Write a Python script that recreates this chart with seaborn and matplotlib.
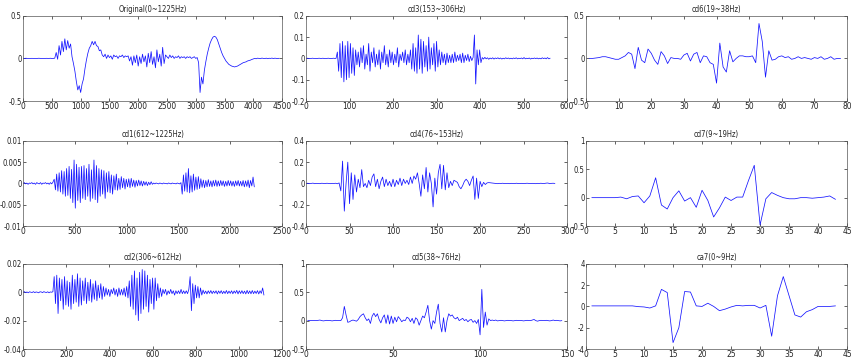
import numpy as np
import matplotlib
matplotlib.use("Agg")
import matplotlib.pyplot as plt
from matplotlib import font_manager as fm
import seaborn as sns

# Señales (valores aproximados, muestreo reducido)
orig_step = 25
orig_y = [0, 0, 0.002, 0, -0.002, 0, 0.001, 0, 0, -0.001, 0, 0.002, 0, 0, -0.002, 0, 0.001, 0, 0, 0.002, -0.001, 0, 0.003,
          0.07, -0.01, 0.15, 0.04, 0.2, 0.08, 0.23, 0.1, 0.21, 0.12, 0.17, 0.02,
          -0.06, -0.15, -0.27, -0.37, -0.32, -0.4, -0.3, -0.24, -0.12, -0.02, 0.06, 0.12, 0.15,
          0.2, 0.16, 0.2, 0.15, 0.14, 0.09, 0.1, 0.04, 0.02, 0.05,
          0.0, 0.04, 0.01, 0.03, -0.01, 0.04, 0.02, 0.03, 0.0, 0.03, 0.02, 0.04, 0.01, 0.03, 0.02, 0.03,
          -0.03, 0.02, -0.08, 0.03, -0.05, 0.04, -0.09, 0.02, -0.06, 0.05, -0.04, 0.03, -0.1, 0.06, -0.05, 0.08,
          -0.07, 0.02, -0.11, 0.1, -0.04, 0.05, -0.09, 0.13, -0.06, 0.04,
          0.02, 0.0, 0.04, 0.01, 0.03, 0.0, 0.02, 0.01, 0.03, 0.0, 0.02, 0.01, 0.02, 0.0, 0.02, 0.01, 0.02, 0.0,
          0.01, 0.02, 0.0, 0.01,
          -0.05, -0.4, -0.22, -0.3, -0.14, -0.04, 0.05, 0.12, 0.18, 0.22, 0.25, 0.26, 0.25, 0.22, 0.17, 0.12,
          0.07, 0.03, 0.0, -0.03, -0.05, -0.07, -0.08, -0.09, -0.095, -0.1, -0.095, -0.09, -0.08, -0.07, -0.06,
          -0.05, -0.045, -0.04, -0.03, -0.025, -0.02, -0.012, -0.006,
          0, -0.004, 0.003, 0, -0.003, 0.004, 0, -0.002, 0.003, -0.003, 0.002, 0, 0.004, -0.002, 0.003, 0,
          -0.002, 0.002]

cd1_step = 12
cd1_y = [0, 0.0002, -0.0001, 0.0001, -0.0002, 0.0001, 0, 0.0002, -0.0001, 0.0001, -0.0002, 0.0002, 0, -0.0001,
         0.0002, -0.0002, 0.0001, 0, 0.0002, -0.0001, 0.0001, -0.0002, 0.0002, -0.0001, 0.0003,
         0.001, -0.0015, 0.0022, -0.0018, 0.0025, -0.002, 0.003, -0.0025, 0.0028,
         -0.003, 0.0035, -0.0028, 0.004, -0.0035, 0.0033, -0.0045, 0.0055, -0.0058, 0.0045, -0.004, 0.0038,
         -0.0045, 0.004, -0.0035, 0.0042, -0.0038, 0.0035, -0.003, 0.0045, -0.0042, 0.0032, -0.0035, 0.0055,
         -0.0038, 0.0042, -0.0045, 0.0035, -0.003,
         0.0032, -0.0025, 0.003, -0.0035, 0.0025, -0.002, 0.0028, -0.0022, 0.002, -0.0025, 0.0018, -0.0015, 0.0022,
         -0.0016, 0.0012, -0.0014, 0.0016, -0.001, 0.0012, -0.0013, 0.001, -0.0008, 0.0011, -0.001, 0.0012,
         -0.0007, 0.0008, -0.0009, 0.0007, -0.0006, 0.0008, -0.0005, 0.0006, -0.0006, 0.0005, -0.0004, 0.0004,
         -0.0005, 0.0003, -0.0003, 0.0004, -0.0002,
         0.0001, -0.0001, 0.0001, 0, -0.0001, 0.0001, 0, -0.0001, 0.0001, 0, 0, -0.0001, 0.0001, 0, -0.0001,
         0.0001, 0, 0, -0.0001, 0.0001, 0, -0.0001, 0.0002,
         -0.0025, 0.002, -0.0018, 0.0025, -0.002, 0.0035, -0.0022, 0.0018, -0.002, 0.0022, -0.0016, 0.0015,
         -0.0014, 0.0016, -0.0012,
         0.0011, -0.0009, 0.0008, -0.001, 0.0007, -0.0008, 0.0009, -0.0007, 0.0006, -0.0008, 0.0007, -0.0006,
         0.0008, -0.0007, 0.0006, -0.0006, 0.0007, -0.0005, 0.0006, -0.0007, 0.0005, -0.0006, 0.0007, -0.0005,
         0.0006, -0.0006, 0.0005, -0.0007, 0.0006, -0.0005, 0.0007, -0.0006, 0.0005, -0.0006, 0.0007, -0.0008,
         0.0006, -0.0007, 0.0008, -0.001, 0.0007, -0.0006, 0.0015, -0.0008]

cd2_step = 6
cd2_y = [0, 0.0004, -0.0003, 0.0002, -0.0004, 0.0003, 0, -0.0002, 0.0004, -0.0003, 0.0002, 0, -0.0004, 0.0003,
         0.0002, -0.0003, 0.0004, 0, -0.0002, 0.0003, -0.0004, 0.0002, 0, 0.0003,
         0.011, -0.008, 0.012, -0.015, 0.01, -0.006, 0.009, -0.012, 0.011, -0.009, 0.008, -0.01, 0.007, -0.012,
         0.012, -0.008, 0.009, -0.007, 0.013, -0.01, 0.01, -0.009, 0.008, -0.006, 0.01, -0.008, 0.007, -0.006,
         0.009, -0.007, 0.006, -0.005, 0.008, -0.006, 0.005, -0.004, 0.006, -0.005, 0.004, -0.003,
         0.003, -0.002, 0.002, -0.003, 0.002, -0.001, 0.003, -0.002, 0.002, -0.003, 0.003, -0.002, 0.002, -0.002,
         0.003, -0.003, 0.004, -0.004,
         0.008, -0.01, 0.012, -0.012, 0.015, -0.016, 0.01, -0.02, 0.014, -0.015, 0.016, -0.012, 0.015, -0.01,
         0.012, -0.014, 0.009, -0.008, 0.01,
         -0.012, 0.01, -0.006, 0.006, -0.004, 0.003, -0.003,
         0.002, -0.001, 0.002, -0.002, 0.001, -0.001, 0.002, -0.001, 0.001, -0.002, 0.001, -0.001, 0.001, -0.001,
         0.002, -0.001, 0.001, -0.001, 0.001, -0.001, 0.002,
         0.011, -0.013, 0.006, -0.008, 0.005, -0.004, 0.004, -0.004, 0.003, -0.002,
         0.0015, -0.001, 0.0008, -0.0012, 0.001, -0.0008, 0.0012, -0.001, 0.0008, -0.0007, 0.001, -0.0012, 0.0009,
         -0.0008, 0.0011, -0.001, 0.0007, -0.0009, 0.0012, -0.001, 0.0008, -0.0008, 0.001, -0.0011, 0.0009,
         -0.0007, 0.0013, -0.0012, 0.001, -0.0009, 0.0011, -0.001, 0.0008, -0.0012, 0.0013, -0.001, 0.0009,
         -0.0011, 0.0012, -0.001, 0.0008, -0.0009, 0.0011, -0.0012, 0.001, -0.0008, 0.003, -0.002]

cd3_step = 3
cd3_y = [0, 0.001, 0, -0.001, 0, 0.001, 0, 0, -0.001, 0, 0.001, 0, 0, 0.001, -0.001, 0, 0, 0.001, 0, -0.001, 0,
         0.001, 0, 0,
         0.03, -0.06, 0.07, -0.09, 0.08, -0.11, 0.06, -0.1, 0.08, -0.09, 0.07, -0.07, 0.05, -0.08, 0.04, -0.03,
         0.03, -0.04, 0.05, -0.02, 0.06, -0.05, 0.02, -0.03, 0.07, -0.06, 0.03, -0.02, 0.05, -0.04, 0.02, -0.03,
         0.04, -0.05, 0.03, -0.02, 0.06, -0.03, 0.02, -0.04, 0.04, -0.02, 0.03, -0.03, 0.02, -0.02, 0.05, -0.04,
         0.02, -0.01, 0.03, -0.02, 0.04, -0.03, 0.02, -0.02,
         0.04, -0.05, 0.07, -0.06, 0.05, -0.07, 0.11, -0.05, 0.09, -0.07, 0.08, -0.04, 0.06, -0.06, 0.1, -0.05,
         0.05, -0.03, 0.07, -0.06, 0.08, -0.04, 0.04, -0.03,
         0.03, -0.02, 0.02, -0.03, 0.025, -0.02, 0.015, -0.02, 0.02, -0.02, 0.03, -0.015, 0.015, -0.01, 0.02,
         -0.02, 0.025, -0.02, 0.015, -0.01, 0.02, -0.015, 0.01, -0.01, 0.005,
         0.11, -0.12, 0.04, -0.03, 0.04, -0.02,
         0.004, -0.003, 0.005, -0.002, 0.003, -0.004, 0.002, -0.002, 0.003, -0.003, 0.002, -0.001, 0.003, -0.002,
         0.002, -0.003, 0.001, -0.002, 0.003, -0.001, 0.002, -0.002, 0.001, -0.002, 0.002, -0.001, 0.003, -0.002,
         0.001, -0.001, 0.002, -0.002, 0.004, -0.002, 0.001, -0.001, 0.002, -0.003, 0.001, -0.001, 0.002, -0.001,
         0.002, -0.002, 0.001, -0.002, 0.003, -0.001, 0.002, -0.002, 0.004, -0.002, 0.001]

cd4_step = 2
cd4_y = [0, 0.002, -0.002, 0, 0.003, -0.002, 0.001, 0, -0.002, 0.002, 0, -0.001, 0.002, 0, -0.002, 0.001, 0,
         0.002, -0.003, 0.005,
         -0.07, 0.21, -0.26, 0.0, 0.2, -0.19, 0.1, -0.15, 0.08, -0.08, 0.04, -0.04, 0.13, -0.03,
         0.0, -0.04, 0.03, -0.02, 0.06, 0.09, -0.03, 0.04, -0.05, 0.02, 0.06, -0.03, 0.04, -0.02, 0.02, -0.03,
         0.04, -0.03, 0.03, -0.01, 0.05, -0.02, 0.04, 0.0, 0.03, -0.01, 0.06, 0.0, 0.07, 0.04, 0.1, 0.0, -0.12,
         0.08, -0.05, 0.15, -0.08, 0.1,
         0.0, -0.22, 0.05, -0.1, 0.1, 0.18, -0.05, 0.17, -0.06, 0.1, -0.04, 0.02, -0.02, 0.03, 0.02, 0.01, -0.03,
         -0.05, -0.02, 0.02, 0.04, 0.02, -0.02, 0.03, 0.07, -0.15, 0.05, -0.14, 0.02, -0.03, 0.01, -0.01,
         0.005, 0.008, 0.006, 0.004, 0.002, 0, -0.002, 0.001, 0, 0.002, -0.001, 0, 0.001, -0.002, 0.001, 0, 0,
         0.002, -0.001, 0, 0.001, -0.001, 0, 0.002, 0, -0.001, 0.001, 0, -0.002, 0.001, 0, 0.002, -0.001, 0,
         0.003, 0.004, -0.002, 0.001, 0.002, 0]

cd5_y = [0, 0, 0, 0, 0, 0, 0.005, 0.01, 0.0, -0.005, 0, 0.005, 0, 0, -0.005, 0, 0.005, 0, 0, 0.0,
         0.05, 0.25, 0.1, -0.03, -0.02, 0.0, 0.01, 0.0, -0.01, 0.02,
         0.07, 0.1, 0.12, 0.05, 0.0, 0.03, -0.05, 0.08, 0.13, 0.07,
         0.12, 0.02, -0.04, 0.05, 0.1, -0.05, 0.1, -0.06, 0.08, -0.05,
         0.06, -0.02, 0.07, 0.03, -0.02, 0.01, 0.0, 0.06, 0.04, -0.02,
         0.04, -0.05, 0.05, 0.02, -0.08, 0.0, 0.08, 0.05, 0.15, 0.27,
         0.0, -0.15, 0.0, -0.05, 0.15, 0.29, -0.05, -0.2, 0.05, -0.2,
         0.0, 0.12, 0.08, 0.1, 0.05, 0.03, 0.06, 0.0, 0.02, 0.04,
         0.0, 0.02, -0.02, 0.01, 0.02, -0.03, 0.0, -0.05, 0.02, -0.25,
         0.55, -0.12, 0.15, -0.08, 0.03, 0.0, 0.01, 0.0, 0.01, -0.005,
         0, 0.005, 0, -0.005, 0, 0.005, 0, 0, -0.005, 0, 0.005, 0, 0, 0, -0.005, 0, 0.005, 0, 0, 0.01, 0.02, 0,
         -0.01, 0, 0.005, 0, 0, 0.005, 0, -0.005, 0, 0.01, 0, 0.005, 0, -0.005, 0]

cd6_y = [0, 0, 0.005, 0.01, 0.02, 0.02, 0.01, 0.0, -0.01, -0.01,
         0.01, 0.03, 0.07, 0.05, -0.12, 0.13, -0.02, -0.05, 0.11, 0.06,
         -0.02, -0.07, 0.08, 0.03, -0.06, 0.01, 0.0, 0.0, -0.01, 0.04,
         0.06, -0.03, 0.05, 0.07, -0.05, 0.03, 0.02, -0.05, -0.07, -0.29,
         0.18, -0.1, -0.16, 0.09, -0.04, 0.0, 0.03, 0.03, 0.02, 0.02,
         0.03, -0.05, 0.41, 0.2, -0.22, 0.09, -0.02, -0.01, 0.02, 0.03,
         0.01, 0.02, -0.01, 0.0, 0.02, 0.0, 0.01, 0.0, -0.01, 0.01,
         0.0, 0.02, -0.01, 0.0, 0.02, -0.01, 0.0, 0.0]

cd7_y = [0, 0, 0, 0, 0, 0.01, -0.02, 0.02, 0.03, -0.09, 0.03, 0.35, -0.13, -0.2, 0.0, 0.12, -0.06, 0.0, -0.17,
         0.13, -0.05, -0.34, -0.18, 0.01, -0.05, 0.01, 0.01, 0.3, 0.57, -0.48, -0.02, 0.09, 0.04, 0.0, -0.02,
         -0.02, 0.0, 0.0, -0.01, 0.0, 0.01, 0.03, -0.03]

ca7_y = [0.05, 0.05, 0.05, 0.05, 0.05, 0.05, 0.05, 0.05, -0.02, -0.05, -0.15, 0.05, 1.6, 1.3, -3.4, -2.0, 1.4,
         1.35, 0.05, 0.0, 0.3, 0.0, -0.4, -0.25, -0.05, 0.1, 0.05, 0.1, 0.1, -0.15, 0.1, -2.8, 1.0, 2.8, 1.0,
         -0.8, -1.0, -0.5, -0.3, 0.0, 0.0, 0.0, 0.05]

titles = ['Original(0~1225Hz)', 'cd3(153~306Hz)', 'cd6(19~38Hz)',
          'cd1(612~1225Hz)', 'cd4(76~153Hz)', 'cd7(9~19Hz)',
          'cd2(306~612Hz)', 'cd5(38~76Hz)', 'ca7(0~9Hz)']

sns.set_style("ticks")
plt.rcParams['font.family'] = ['DejaVu Sans']

# buscar una fuente estrecha (el original usa una letra muy condensada)
narrow_file = None
for f in fm.fontManager.ttflist:
    nm = f.name.lower()
    if f.style == 'normal' and f.weight in (400, 'normal', 'regular') and \
            ('narrow' in nm or 'condensed' in nm or f.stretch in ('condensed', 'semi-condensed')):
        narrow_file = f.fname
        break

if narrow_file:
    xtick_font = fm.FontProperties(fname=narrow_file, size=6.0)
    ytick_font = fm.FontProperties(fname=narrow_file, size=5.5)
    title_font = fm.FontProperties(fname=narrow_file, size=5.5)
else:
    xtick_font = fm.FontProperties(family='DejaVu Sans', size=5.3)
    ytick_font = fm.FontProperties(family='DejaVu Sans', size=4.8)
    title_font = fm.FontProperties(family='DejaVu Sans', size=4.5)


def tick_fmt(v, pos=None):
    # estilo MATLAB: 0.5, -0.005, 1000
    if abs(v) < 1e-12:
        return '0'
    return f'{v:g}'


# (datos, paso, inicio, xlim, xticks, ylim, yticks)
panels = [
    (orig_y, orig_step, 0, (0, 4500), np.arange(0, 4501, 500), (-0.5, 0.5), [-0.5, 0, 0.5]),
    (cd3_y, cd3_step, 0, (0, 600), np.arange(0, 601, 100), (-0.2, 0.2), [-0.2, -0.1, 0, 0.1, 0.2]),
    (cd6_y, 1, 1, (0, 80), np.arange(0, 81, 10), (-0.5, 0.5), [-0.5, 0, 0.5]),
    (cd1_y, cd1_step, 0, (0, 2500), np.arange(0, 2501, 500), (-0.01, 0.01), [-0.01, -0.005, 0, 0.005, 0.01]),
    (cd4_y, cd4_step, 0, (0, 300), np.arange(0, 301, 50), (-0.4, 0.4), [-0.4, -0.2, 0, 0.2, 0.4]),
    (cd7_y, 1, 1, (0, 45), np.arange(0, 46, 5), (-0.5, 1), [-0.5, 0, 0.5, 1]),
    (cd2_y, cd2_step, 0, (0, 1200), np.arange(0, 1201, 200), (-0.04, 0.02), [-0.04, -0.02, 0, 0.02]),
    (cd5_y, 1, 1, (0, 150), np.arange(0, 151, 50), (-0.5, 1), [-0.5, 0, 0.5, 1]),
    (ca7_y, 1, 1, (0, 45), np.arange(0, 46, 5), (-4, 4), [-4, -2, 0, 2, 4]),
]

fig = plt.figure(figsize=(8.56, 3.64), dpi=100)
col_left = [0.027, 0.3575, 0.6846]
col_width = [0.3025, 0.305, 0.305]
row_bottom = [0.7225, 0.379, 0.0412]
ax_h = 0.234

for k, (y, step, start, xl, xt, yl, yt) in enumerate(panels):
    r, c = divmod(k, 3)
    ax = fig.add_axes([col_left[c], row_bottom[r], col_width[c], ax_h])
    y = np.asarray(y)
    x = start + np.arange(len(y)) * step
    sns.lineplot(x=x, y=y, ax=ax, color='#1414ff', linewidth=0.55, estimator=None, sort=False)
    ax.set_xlim(*xl)
    ax.set_ylim(*yl)
    ax.set_xticks(xt)
    ax.set_yticks(yt)
    ax.xaxis.set_major_formatter(plt.FuncFormatter(tick_fmt))
    ax.yaxis.set_major_formatter(plt.FuncFormatter(tick_fmt))
    ax.tick_params(direction='in', top=True, right=True, length=2.5, width=0.5,
                   pad=1.0, colors='#222222')
    for lab in ax.get_xticklabels():
        lab.set_fontproperties(xtick_font)
    for lab in ax.get_yticklabels():
        lab.set_fontproperties(ytick_font)
    for sp in ax.spines.values():
        sp.set_linewidth(0.5)
        sp.set_color('#555555')
    ax.set_xlabel('')
    ax.set_ylabel('')
    ax.set_title(titles[k], fontproperties=title_font, pad=2.5)

fig.savefig('out.png', dpi=100)
plt.close(fig)
